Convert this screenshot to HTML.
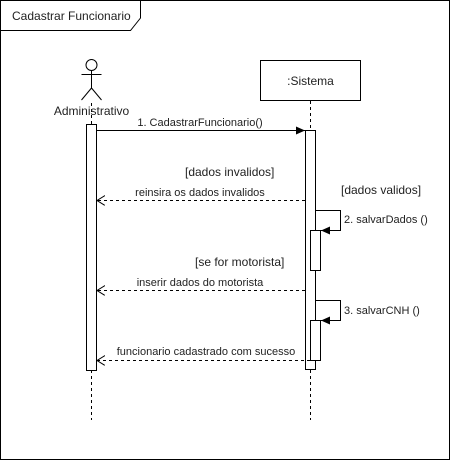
<!DOCTYPE html>
<html><head><style>body{margin:0;background:#fff}svg{display:block}text{font-family:"Liberation Sans",Arial,sans-serif;font-size:11px;fill:#222}.b{font-size:12px}</style></head><body>
<svg width="451" height="461" xmlns="http://www.w3.org/2000/svg">
<defs>
<marker id="f" markerWidth="10" markerHeight="10" refX="9" refY="4" orient="auto" markerUnits="userSpaceOnUse"><path d="M0,0 L9,4 L0,8 Z" fill="#000"/></marker>
<marker id="o" markerWidth="12" markerHeight="12" refX="8" refY="5" orient="auto" markerUnits="userSpaceOnUse"><path d="M0,0 L8,5 L0,10" fill="none" stroke="#000"/></marker>
</defs>
<rect x="0.5" y="0.5" width="449" height="459" fill="#fff" stroke="#000"/>
<path d="M0.5,30.5 H130.5 L140.5,18 V0.5" fill="none" stroke="#000"/>
<text x="12" y="20" class="b">Cadastrar Funcionario</text>
<g stroke="#000" fill="none">
<circle cx="91.5" cy="65" r="5.5"/>
<line x1="91.5" y1="70.5" x2="91.5" y2="88"/>
<line x1="81.5" y1="74.5" x2="101.5" y2="74.5"/>
<line x1="91.5" y1="88" x2="81.5" y2="100"/>
<line x1="91.5" y1="88" x2="101.5" y2="100"/>
<line x1="91.5" y1="103" x2="91.5" y2="124" stroke-dasharray="3,3"/>
<line x1="91.5" y1="370" x2="91.5" y2="420" stroke-dasharray="3,3"/>
<rect x="86.5" y="124.5" width="10" height="246" fill="#fff"/>
<rect x="260.5" y="60.5" width="100" height="40" fill="#fff"/>
<line x1="310.5" y1="101" x2="310.5" y2="130" stroke-dasharray="3,3"/>
<line x1="310.5" y1="370" x2="310.5" y2="420" stroke-dasharray="3,3"/>
<rect x="305.5" y="130.5" width="10" height="239" fill="#fff"/>
<path d="M315.5,210.5 H340.5 V230.5 H321" marker-end="url(#f)"/>
<rect x="310.5" y="230.5" width="10" height="40" fill="#fff"/>
<path d="M315.5,300.5 H340.5 V320.5 H321" marker-end="url(#f)"/>
<rect x="310.5" y="320.5" width="10" height="40" fill="#fff"/>
<line x1="97" y1="130.5" x2="305" y2="130.5" marker-end="url(#f)"/>
<line x1="305" y1="200.5" x2="97" y2="200.5" stroke-dasharray="3,3" marker-end="url(#o)"/>
<line x1="305" y1="290.5" x2="97" y2="290.5" stroke-dasharray="3,3" marker-end="url(#o)"/>
<line x1="310" y1="360.5" x2="97" y2="360.5" stroke-dasharray="3,3" marker-end="url(#o)"/>
</g>
<text x="91.5" y="115" text-anchor="middle" class="b">Administrativo</text>
<text x="310.5" y="85" text-anchor="middle" class="b">:Sistema</text>
<text x="200" y="126" text-anchor="middle">1. CadastrarFuncionario()</text>
<text x="185" y="176" class="b">[dados invalidos]</text>
<text x="200" y="196" text-anchor="middle">reinsira os dados invalidos</text>
<text x="341" y="194" class="b">[dados validos]</text>
<text x="344" y="223">2. salvarDados ()</text>
<text x="195" y="266" class="b">[se for motorista]</text>
<text x="200" y="286" text-anchor="middle">inserir dados do motorista</text>
<text x="344" y="314">3. salvarCNH ()</text>
<text x="206" y="355" text-anchor="middle">funcionario cadastrado com sucesso</text>
</svg>
</body></html>
